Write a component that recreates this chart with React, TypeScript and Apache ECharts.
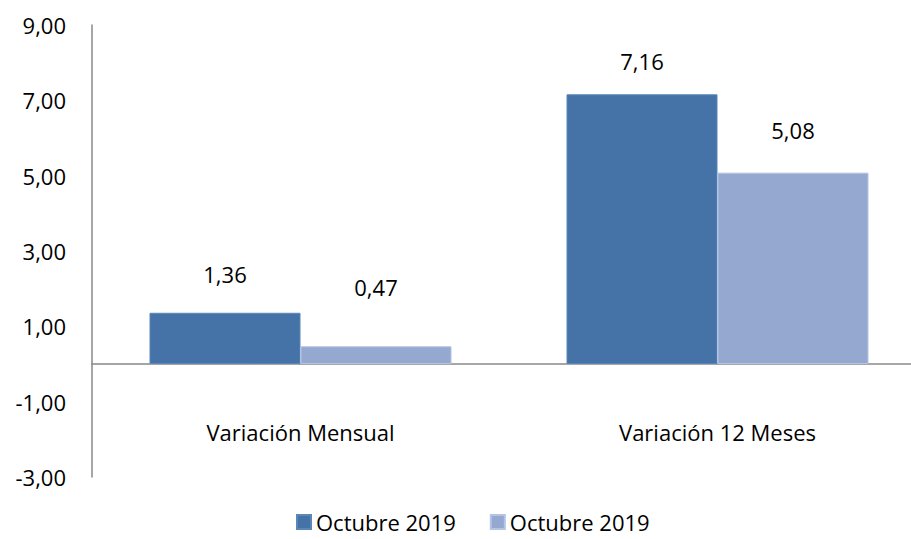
import React, { useEffect, useRef } from "react";
import * as echarts from "echarts";

const categories = ["Variación Mensual", "Variación 12 Meses"];
const seriesNames = ["Octubre 2019", "Octubre 2019"];
const seriesA = [1.36, 7.16];
const seriesB = [0.47, 5.08];
const labelDistA = [28, 22];
const labelDistB = [48, 32];
const yMin = -3;
const yMax = 9;
const yInterval = 2;

const FONT = "'Open Sans', sans-serif";
const fmt = (v: number) => v.toFixed(2).replace(".", ",");

export default function App() {
  const ref = useRef<HTMLDivElement>(null);
  useEffect(() => {
    if (!ref.current) return;
    const chart = echarts.init(ref.current, null, { renderer: "svg" });
    const mk = (vals: number[], dists: number[]) =>
      vals.map((v, i) => ({ value: v, label: { distance: dists[i] } }));
    chart.setOption({
      animation: false,
      textStyle: { fontFamily: FONT },
      grid: { left: 92, top: 25, bottom: 62, width: 834, outerBoundsMode: "none", containLabel: false },
      legend: {
        top: 511,
        left: 296,
        padding: 0,
        itemWidth: 14,
        itemHeight: 14,
        itemGap: 34,
        icon: "rect",
        textStyle: { fontSize: 22, lineHeight: 22, color: "#000", fontFamily: FONT },
        data: [
          { name: "A", itemStyle: { color: "#4573A7" } },
          { name: "B", itemStyle: { color: "#95A9D0" } },
        ],
        formatter: (n: string) => (n === "A" ? seriesNames[0] : seriesNames[1]),
      },
      xAxis: {
        type: "category",
        data: categories,
        axisLine: { onZero: true, lineStyle: { color: "#888", width: 1.5 } },
        axisTick: { show: false },
        axisLabel: { margin: -56, fontSize: 22, color: "#000", fontFamily: FONT },
      },
      yAxis: {
        type: "value",
        min: yMin,
        max: yMax,
        interval: yInterval,
        splitLine: { show: false },
        axisLine: { show: true, lineStyle: { color: "#888", width: 1.5 } },
        axisTick: { show: false },
        axisLabel: {
          margin: 26,
          fontSize: 22,
          color: "#000",
          fontFamily: FONT,
          formatter: (v: number) => fmt(v),
        },
      },
      series: [
        {
          name: "A",
          type: "bar",
          data: mk(seriesA, labelDistA),
          barWidth: 151,
          barGap: "0%",
          itemStyle: { color: "#4573A7", borderColor: "#5B86B8", borderWidth: 1 },
          label: {
            show: true,
            position: "top",
            fontSize: 22,
            color: "#000",
            fontFamily: FONT,
            formatter: (p: any) => fmt(p.value),
          },
        },
        {
          name: "B",
          type: "bar",
          data: mk(seriesB, labelDistB),
          barWidth: 151,
          barGap: "0%",
          itemStyle: { color: "#95A9D0", borderColor: "#B3C4E4", borderWidth: 1 },
          label: {
            show: true,
            position: "top",
            fontSize: 22,
            color: "#000",
            fontFamily: FONT,
            formatter: (p: any) => fmt(p.value),
          },
        },
      ],
    });
    return () => chart.dispose();
  }, []);
  return <div ref={ref} style={{ width: 911, height: 539, position: "absolute", left: 0, top: 0 }} />;
}
